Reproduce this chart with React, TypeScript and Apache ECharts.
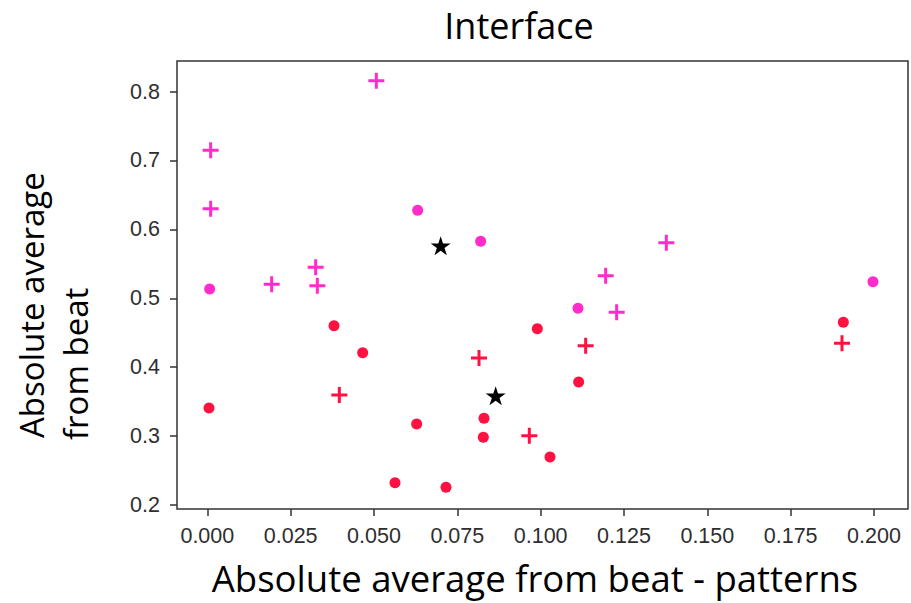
import React, { useEffect, useRef } from "react";
import * as echarts from "echarts";

// Absolute average offset from beat: patterns (x) vs. overall (y)
const pinkCross: [number, number][] = [
  [0.0507, 0.8158],
  [0.001, 0.7148],
  [0.001, 0.630],
  [0.0193, 0.5203],
  [0.0325, 0.545],
  [0.033, 0.5183],
  [0.1377, 0.5807],
  [0.1195, 0.5328],
  [0.1228, 0.4797],
];

const pinkDot: [number, number][] = [
  [0.0631, 0.6277],
  [0.082, 0.5827],
  [0.0007, 0.5135],
  [0.1112, 0.4855],
  [0.1997, 0.5241],
];

const redDot: [number, number][] = [
  [0.038, 0.4603],
  [0.0466, 0.421],
  [0.0005, 0.3408],
  [0.0628, 0.3176],
  [0.0563, 0.2324],
  [0.0716, 0.2257],
  [0.083, 0.3258],
  [0.0828, 0.2982],
  [0.1028, 0.2697],
  [0.099, 0.4559],
  [0.1114, 0.3785],
  [0.1908, 0.4652],
];

const redCross: [number, number][] = [
  [0.0396, 0.3597],
  [0.0815, 0.4134],
  [0.1135, 0.4312],
  [0.0966, 0.3006],
  [0.1904, 0.4347],
];

const blackStar: [number, number][] = [
  [0.07, 0.5764],
  [0.0865, 0.3586],
];

const xTicks = [0, 0.025, 0.05, 0.075, 0.1, 0.125, 0.15, 0.175, 0.2];
const yTicks = [0.2, 0.3, 0.4, 0.5, 0.6, 0.7, 0.8];

const PINK = "#ff2ccb";
const RED = "#ff1241";

const PLUS =
  "path://M6.5,0H9.5V6.5H16V9.5H9.5V16H6.5V9.5H0V6.5H6.5Z";
const STAR =
  "path://M50,0L61.23,34.55L97.55,34.55L68.16,55.9L79.39,90.45L50,69.1L20.61,90.45L31.84,55.9L2.45,34.55L38.77,34.55Z";

const tickFont = {
  fontFamily: "Liberation Sans",
  fontSize: 21.5,
  color: "#2e2e2e",
};

const labelFont = "Open Sans";

export default function App() {
  const ref = useRef<HTMLDivElement>(null);

  useEffect(() => {
    if (!ref.current) return;
    const chart = echarts.init(ref.current, null, { renderer: "svg" });
    chart.setOption({
      animation: false,
      backgroundColor: "#fff",
      grid: {
        left: 177,
        right: 3,
        top: 61,
        bottom: 94,
        show: true,
        borderColor: "#333",
        borderWidth: 1.5,
        backgroundColor: "transparent",
      },
      xAxis: {
        type: "value",
        min: -0.0091,
        max: 0.2102,
        splitLine: { show: false },
        axisLine: { show: false, onZero: false },
        axisTick: {
          show: true,
          length: 7,
          customValues: xTicks,
          lineStyle: { color: "#333", width: 1.5 },
        },
        axisLabel: {
          customValues: xTicks,
          margin: 16,
          formatter: (v: number) => v.toFixed(3),
          ...tickFont,
        },
      },
      yAxis: {
        type: "value",
        min: 0.1942,
        max: 0.8444,
        splitLine: { show: false },
        axisLine: { show: false, onZero: false },
        axisTick: {
          show: true,
          length: 7,
          customValues: yTicks,
          lineStyle: { color: "#333", width: 1.5 },
        },
        axisLabel: {
          customValues: yTicks,
          margin: 17,
          formatter: (v: number) => v.toFixed(1),
          ...tickFont,
        },
      },
      graphic: [
        {
          type: "text",
          x: 519,
          y: 25,
          style: {
            text: "Interface",
            font: `36px "${labelFont}"`,
            fill: "#000",
            textAlign: "center",
            textVerticalAlign: "middle",
          },
        },
        {
          type: "text",
          x: 535,
          y: 578,
          style: {
            text: "Absolute average from beat - patterns",
            font: `36.5px "${labelFont}"`,
            fill: "#000",
            textAlign: "center",
            textVerticalAlign: "middle",
          },
        },
        {
          type: "text",
          x: 31,
          y: 438,
          rotation: Math.PI / 2,
          style: {
            text: "Absolute average",
            font: `33px "${labelFont}"`,
            fill: "#000",
            textAlign: "left",
            textVerticalAlign: "middle",
          },
        },
        {
          type: "text",
          x: 75,
          y: 440,
          rotation: Math.PI / 2,
          style: {
            text: "from beat",
            font: `33px "${labelFont}"`,
            fill: "#000",
            textAlign: "left",
            textVerticalAlign: "middle",
          },
        },
      ],
      series: [
        {
          type: "scatter",
          data: pinkCross,
          symbol: PLUS,
          symbolSize: 16,
          itemStyle: { color: PINK, opacity: 1 },
        },
        {
          type: "scatter",
          data: pinkDot,
          symbol: "circle",
          symbolSize: 11,
          itemStyle: { color: PINK, opacity: 1 },
        },
        {
          type: "scatter",
          data: redDot,
          symbol: "circle",
          symbolSize: 11,
          itemStyle: { color: RED, opacity: 1 },
        },
        {
          type: "scatter",
          data: redCross,
          symbol: PLUS,
          symbolSize: 16,
          itemStyle: { color: RED, opacity: 1 },
        },
        {
          type: "scatter",
          data: blackStar,
          symbol: STAR,
          symbolSize: [20, 19],
          z: 5,
          itemStyle: { color: "#000", opacity: 1 },
        },
      ],
    });
    return () => chart.dispose();
  }, []);

  return (
    <div
      ref={ref}
      style={{ position: "fixed", left: 0, top: 0, width: 911, height: 603 }}
    />
  );
}
